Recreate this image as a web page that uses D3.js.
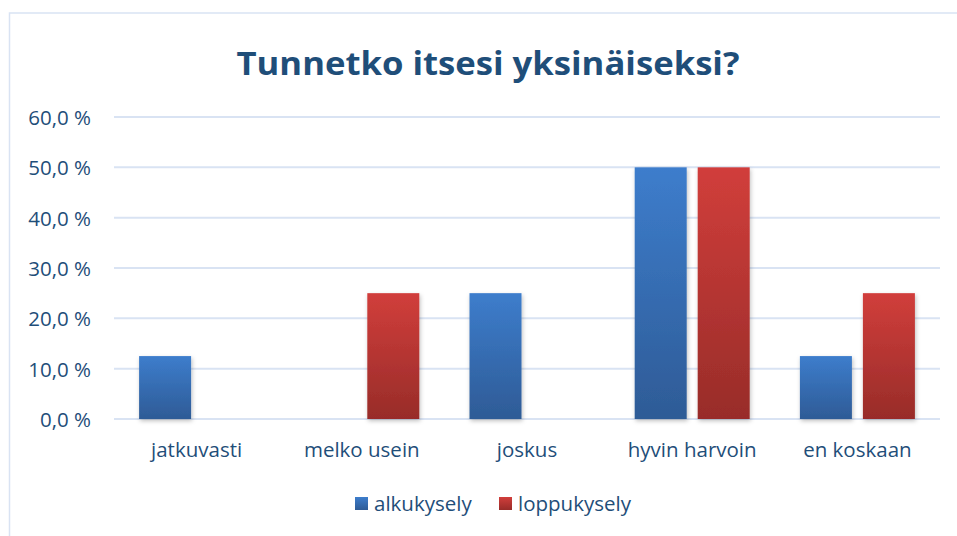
<!DOCTYPE html>
<html>
<head>
<meta charset="utf-8">
<script src="https://cdn.jsdelivr.net/npm/d3@7"></script>
<style>
  body { margin: 0; background: #fff; }
  svg { display: block; font-family: "Open Sans", Lato, sans-serif; }
</style>
</head>
<body>
<div id="chart"></div>
<script>
// data
var categories = ["jatkuvasti", "melko usein", "joskus", "hyvin harvoin", "en koskaan"];
var seriesNames = ["alkukysely", "loppukysely"];
var alkukysely = [12.5, 0, 25, 50, 12.5];
var loppukysely = [0, 25, 0, 50, 25];
var yTicks = [0, 10, 20, 30, 40, 50, 60];

var width = 957, height = 536;
var margin = {left: 114, right: 17, top: 117, bottom: 117};
var textColor = "#1F4E79";
var gridColor = "#D9E3F3";
var fontSize = 20.5;

var svg = d3.select("#chart").append("svg")
        .attr("width", width)
        .attr("height", height);

// gradients + shadow
var defs = svg.append("defs");
var grads = [
    {id: "gBlue", top: "#3D7DCC", bottom: "#2E5B96"},
    {id: "gRed", top: "#D13E3B", bottom: "#982C29"}
];
grads.forEach(function (g) {
    var lg = defs.append("linearGradient").attr("id", g.id)
            .attr("x1", 0).attr("y1", 0).attr("x2", 0).attr("y2", 1);
    lg.append("stop").attr("offset", "0%").attr("stop-color", g.top);
    lg.append("stop").attr("offset", "100%").attr("stop-color", g.bottom);
});
var f = defs.append("filter").attr("id", "shadow")
        .attr("x", "-20%").attr("y", "-10%").attr("width", "140%").attr("height", "130%");
f.append("feDropShadow").attr("dx", 1).attr("dy", 2).attr("stdDeviation", 2)
        .attr("flood-color", "#000").attr("flood-opacity", 0.25);

// outer border (chart area frame)
svg.append("rect")
        .attr("x", 9.5).attr("y", 13)
        .attr("width", 960).attr("height", 540)
        .attr("fill", "none")
        .attr("stroke", gridColor)
        .attr("stroke-width", 1.5);

// title
svg.append("text")
        .attr("x", 488).attr("y", 75)
        .attr("text-anchor", "middle")
        .attr("font-size", 33)
        .attr("font-weight", "bold")
        .attr("fill", textColor)
        .attr("textLength", 503)
        .attr("lengthAdjust", "spacingAndGlyphs")
        .text("Tunnetko itsesi yksinäiseksi?");

var x0 = d3.scaleBand()
        .domain(categories)
        .range([margin.left, width - margin.right]);

var y = d3.scaleLinear()
        .domain([0, 60])
        .range([419, 117]);

// gridlines
svg.append("g").selectAll("line")
        .data(yTicks).enter()
        .append("line")
        .attr("x1", margin.left).attr("x2", width - margin.right)
        .attr("y1", function (d) { return y(d); })
        .attr("y2", function (d) { return y(d); })
        .attr("stroke", gridColor)
        .attr("stroke-width", 2);

// y axis labels
svg.append("g").selectAll("text")
        .data(yTicks).enter()
        .append("text")
        .attr("x", 91)
        .attr("y", function (d) { return y(d) + 8; })
        .attr("text-anchor", "end")
        .attr("font-size", fontSize)
        .attr("fill", textColor)
        .text(function (d) { return d.toFixed(1).replace(".", ",") + " %"; });

// bars
var barW = 52, gap = 11;
var x1 = d3.scaleOrdinal()
        .domain(seriesNames)
        .range([-(barW + gap) / 2, (barW + gap) / 2]);
var fills = {alkukysely: "url(#gBlue)", loppukysely: "url(#gRed)"};

var rows = categories.map(function (c, i) {
    return {cat: c, values: [
        {name: "alkukysely", v: alkukysely[i]},
        {name: "loppukysely", v: loppukysely[i]}
    ]};
});

var group = svg.append("g").selectAll(".grp")
        .data(rows).enter()
        .append("g")
        .attr("class", "grp")
        .attr("transform", function (d) {
            return "translate(" + (x0(d.cat) + x0.bandwidth() / 2) + ",0)";
        });

group.selectAll("rect")
        .data(function (d) { return d.values.filter(function (e) { return e.v > 0; }); })
        .enter().append("rect")
        .attr("x", function (d) { return x1(d.name) - barW / 2; })
        .attr("y", function (d) { return y(d.v); })
        .attr("width", barW)
        .attr("height", function (d) { return y(0) - y(d.v); })
        .attr("fill", function (d) { return fills[d.name]; })
        .attr("filter", "url(#shadow)");

// category labels
svg.append("g").selectAll("text")
        .data(categories).enter()
        .append("text")
        .attr("x", function (d) { return x0(d) + x0.bandwidth() / 2; })
        .attr("y", 457)
        .attr("text-anchor", "middle")
        .attr("font-size", fontSize)
        .attr("fill", textColor)
        .text(function (d) { return d; });

// legend
var legendX = [355, 499];
var legend = svg.append("g").selectAll("g")
        .data(seriesNames).enter()
        .append("g")
        .attr("transform", function (d, i) { return "translate(" + legendX[i] + ",497)"; });
legend.append("rect")
        .attr("width", 13).attr("height", 13)
        .attr("fill", function (d) { return fills[d]; });
legend.append("text")
        .attr("x", 19).attr("y", 14)
        .attr("font-size", fontSize)
        .attr("fill", textColor)
        .text(function (d) { return d; });
</script>
</body>
</html>
